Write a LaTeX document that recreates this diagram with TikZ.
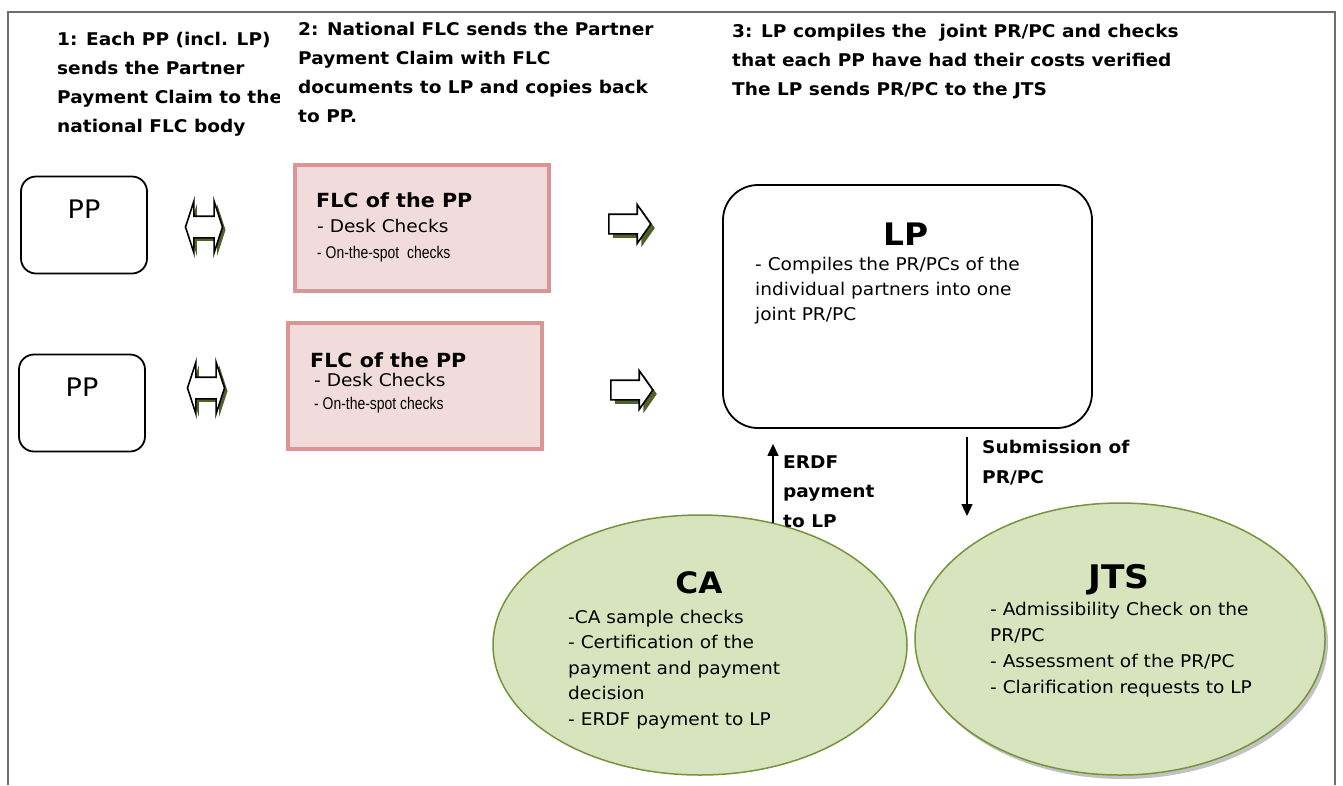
\documentclass[tikz,border=0pt]{standalone}
\usepackage{fontspec}
\setmainfont{DejaVu Sans}[FakeStretch=1.06]
\newfontfamily\narrowfont[FakeStretch=0.82]{Liberation Sans}
\usetikzlibrary{arrows.meta,positioning,shapes.arrows,shapes.geometric,shadows}

\definecolor{flcfill}{HTML}{F2DCDB}
\definecolor{flcline}{HTML}{D99694}
\definecolor{bodyfill}{HTML}{D7E4BD}
\definecolor{bodyline}{HTML}{77933C}
\definecolor{olive}{HTML}{4F6228}
\definecolor{framegray}{HTML}{6E6E6E}

\tikzset{
  heading/.style={font=\bfseries\fontsize{17.5}{29}\selectfont, align=left,
    anchor=base west, inner sep=0pt},
  ppbox/.style={draw, line width=1.8pt, rounded corners=15pt,
    minimum width=126pt, minimum height=97pt},
  pptext/.style={font=\fontsize{25.5}{30}\selectfont, inner sep=0pt},
  flcbox/.style={draw=flcline, fill=flcfill, line width=4pt,
    minimum width=254pt, minimum height=126pt},
  flctitle/.style={font=\bfseries\fontsize{19.5}{22}\selectfont, anchor=base west, inner sep=0pt},
  flcitem/.style={font=\fontsize{17.5}{20}\selectfont, anchor=base west, inner sep=0pt},
  flcnarrow/.style={font=\narrowfont\fontsize{17}{20}\selectfont, anchor=base west, inner sep=0pt},
  dblarrow/.style={double arrow, draw, fill=white, line width=1.6pt,
    double arrow tip angle=144, double arrow head extend=15pt,
    inner xsep=0pt, inner ysep=10pt, minimum height=37pt,
    drop shadow={shadow xshift=3pt, shadow yshift=-3pt, fill=olive, opacity=1}},
  fwdarrow/.style={single arrow, draw, fill=white, line width=1.6pt,
    single arrow tip angle=110, single arrow head extend=9.5pt,
    inner xsep=0pt, inner ysep=9pt, minimum height=42pt, anchor=tail,
    drop shadow={shadow xshift=4pt, shadow yshift=-4pt, fill=olive, opacity=1}},
  bodyshape/.style={ellipse, draw=bodyline, fill=bodyfill, line width=1.5pt},
  bigtitle/.style={font=\bfseries\fontsize{29.5}{34}\selectfont, anchor=base, inner sep=0pt},
  bodytext/.style={font=\fontsize{17.5}{25.5}\selectfont, align=left,
    anchor=base west, inner sep=0pt},
  flow/.style={-{Triangle[length=12pt,width=11pt]}, line width=1.3pt},
  flowlabel/.style={font=\bfseries\fontsize{17.5}{29.5}\selectfont, align=left,
    anchor=base west, inner sep=0pt}
}

\begin{document}
\begin{tikzpicture}[x=1pt,y=-1pt]
  \useasboundingbox (0,0) rectangle (1343,785);

  \node[heading] (step1) at (57,132)
    {1: Each PP (incl. LP)\\sends the Partner\\Payment Claim to the\\national FLC body};
  \node[heading, fill=white, inner xsep=18pt] (step2) at (280,122)
    {2: National FLC sends the Partner\\Payment Claim with FLC\\documents to LP and copies back\\to PP.};
  \node[heading] (step3) at (732,95)
    {3: LP compiles the~ joint PR/PC and checks\\that each PP have had their costs verified\\The LP sends PR/PC to the JTS};
  \draw[framegray, line width=2pt] (8,785) -- (8,12) -- (1335,12) -- (1335,785);

  \node[ppbox] (pp1) at (84,225) {};
  \node[pptext, below=24pt of pp1.north] (pp1lbl) {PP};
  \node[ppbox] (pp2) at (82,403) {};
  \node[pptext, below=24pt of pp2.north] (pp2lbl) {PP};

  \node[dblarrow] (link1) at (204,227) {};
  \node[dblarrow] (link2) at (206,388) {};

  \node[flcbox] (flc1) at (422,228) {};
  \node[flctitle] (flc1title) at (316,207) {FLC of the PP};
  \node[flcitem] (flc1desk) at (317,232) {- Desk Checks};
  \node[flcnarrow] (flc1spot) at (317,258) {- On-the-spot\ \ checks};

  \node[flcbox] (flc2) at (415,386) {};
  \node[flctitle] (flc2title) at (310,367) {FLC of the PP};
  \node[flcitem] (flc2desk) at (314,386) {- Desk Checks};
  \node[flcnarrow] (flc2spot) at (314,409) {- On-the-spot checks};

  \node[fwdarrow] (send1) at (608,224) {};
  \node[fwdarrow] (send2) at (610,390) {};

  \node[draw, line width=1.8pt, rounded corners=35pt, minimum width=369pt,
    minimum height=243pt] (lp) at (907.5,306.5) {};
  \node[bigtitle, font=\bfseries\fontsize{31}{36}\selectfont] (lptitle) at (906,245) {LP};
  \node[bodytext, font=\fontsize{17.5}{25}\selectfont] (lptext) at (755,320)
    {- Compiles the PR/PCs of the\\individual partners into one\\joint PR/PC};

  \node[bodyshape, minimum width=414pt, minimum height=260pt] (ca) at (700,645) {};
  \node[bodyshape, minimum width=410pt, minimum height=272pt,
    drop shadow={shadow xshift=3pt, shadow yshift=-4pt, fill=black!40, opacity=.6}]
    (jts) at (1120,639) {};
  \node[bigtitle] (catitle) at (699,593) {CA};
  \node[bodytext] (catext) at (568,725)
    {-CA sample checks\\- Certification of the\\payment and payment\\decision\\- ERDF payment to LP};
  \node[bigtitle, font=\bfseries\fontsize{32.5}{36}\selectfont] (jtstitle) at (1119,588) {JTS};
  \node[bodytext, font=\fontsize{17.5}{26}\selectfont] (jtstext) at (990,693)
    {- Admissibility Check on the\\PR/PC\\- Assessment of the PR/PC\\- Clarification requests to LP};

  \coordinate (payFoot) at (773,523);
  \draw[flow, shorten >=15pt] (payFoot) -- (payFoot |- lp.south);
  \node[flowlabel] (paylbl) at (783,527) {ERDF\\payment\\to LP};
  \coordinate (subFoot) at (967,516);
  \draw[flow, shorten <=8pt] (subFoot |- lp.south) -- (subFoot);
  \node[flowlabel] (sublbl) at (982,483) {Submission of\\PR/PC};
\end{tikzpicture}
\end{document}
